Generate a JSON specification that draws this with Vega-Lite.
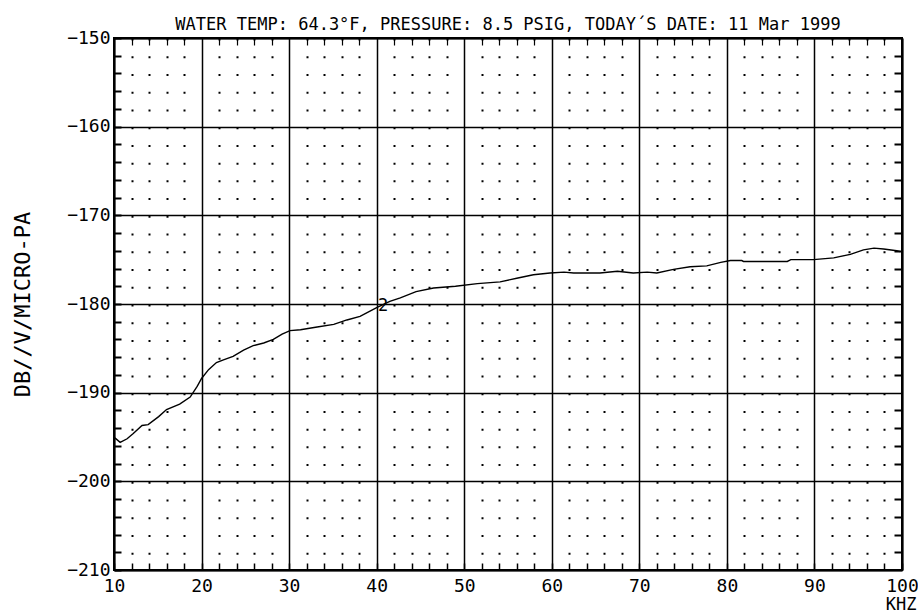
{
  "$schema": "https://vega.github.io/schema/vega-lite/v6.json",
  "width": 788,
  "height": 532,
  "autosize": {"type": "none"},
  "padding": {"left": 114, "top": 38, "right": 16, "bottom": 42},
  "background": "white",
  "config": {
    "view": {"stroke": "black", "strokeWidth": 2},
    "font": "DejaVu Sans Mono",
    "axis": {
      "labelFont": "DejaVu Sans Mono",
      "labelFontSize": 18,
      "labelColor": "black",
      "titleFont": "DejaVu Sans Mono",
      "titleColor": "black",
      "titleFontWeight": "normal",
      "domainColor": "black",
      "domainWidth": 2,
      "tickColor": "black"
    }
  },
  "title": {
    "text": "WATER TEMP: 64.3°F, PRESSURE: 8.5 PSIG, TODAY´S DATE: 11 Mar 1999",
    "font": "DejaVu Sans Mono",
    "fontSize": 17,
    "fontWeight": "normal",
    "color": "black",
    "anchor": "middle",
    "baseline": "alphabetic",
    "offset": 8,
    "dy": 26
  },
  "datasets": {
    "curve": [
      {"khz": 10.1, "db": -195.1}, {"khz": 10.7, "db": -195.6}, {"khz": 11.5, "db": -195.2},
      {"khz": 12.2, "db": -194.6}, {"khz": 13.2, "db": -193.7}, {"khz": 13.9, "db": -193.6},
      {"khz": 15.1, "db": -192.7}, {"khz": 16.0, "db": -191.9}, {"khz": 17.5, "db": -191.3},
      {"khz": 18.7, "db": -190.5}, {"khz": 19.5, "db": -189.3}, {"khz": 20.0, "db": -188.4},
      {"khz": 20.8, "db": -187.4}, {"khz": 21.7, "db": -186.6}, {"khz": 22.5, "db": -186.3},
      {"khz": 23.6, "db": -185.9}, {"khz": 24.8, "db": -185.2}, {"khz": 25.9, "db": -184.7},
      {"khz": 27.1, "db": -184.4}, {"khz": 28.2, "db": -184.0}, {"khz": 29.2, "db": -183.4},
      {"khz": 30.1, "db": -183.0}, {"khz": 31.3, "db": -182.9}, {"khz": 33.2, "db": -182.6},
      {"khz": 35.1, "db": -182.3}, {"khz": 36.6, "db": -181.8}, {"khz": 38.1, "db": -181.4},
      {"khz": 40.0, "db": -180.4}, {"khz": 41.5, "db": -179.7}, {"khz": 42.7, "db": -179.3},
      {"khz": 44.5, "db": -178.6}, {"khz": 46.5, "db": -178.2}, {"khz": 49.0, "db": -178.0},
      {"khz": 51.5, "db": -177.7}, {"khz": 54.1, "db": -177.5}, {"khz": 56.0, "db": -177.1},
      {"khz": 57.9, "db": -176.7}, {"khz": 59.8, "db": -176.5}, {"khz": 61.4, "db": -176.4},
      {"khz": 62.5, "db": -176.5}, {"khz": 65.5, "db": -176.5}, {"khz": 67.5, "db": -176.3},
      {"khz": 69.3, "db": -176.5}, {"khz": 70.9, "db": -176.4}, {"khz": 72.0, "db": -176.5},
      {"khz": 73.9, "db": -176.1}, {"khz": 75.8, "db": -175.8}, {"khz": 77.7, "db": -175.7},
      {"khz": 79.3, "db": -175.3}, {"khz": 80.4, "db": -175.1}, {"khz": 81.7, "db": -175.1},
      {"khz": 81.9, "db": -175.2}, {"khz": 86.9, "db": -175.2}, {"khz": 87.3, "db": -175.0},
      {"khz": 89.9, "db": -175.0}, {"khz": 92.2, "db": -174.8}, {"khz": 94.1, "db": -174.4},
      {"khz": 95.6, "db": -173.9}, {"khz": 96.8, "db": -173.7}, {"khz": 97.9, "db": -173.8},
      {"khz": 99.4, "db": -174.0}, {"khz": 99.8, "db": -174.1}
    ],
    "labels": [
      {"khz": 40.74, "db": -180.2, "label": "2"}
    ]
  },
  "resolve": {"axis": {"x": "independent", "y": "independent"}},
  "layer": [
    {
      "data": {"name": "curve"},
      "mark": {"type": "line", "color": "black", "strokeWidth": 1.4, "interpolate": "linear"},
      "encoding": {
        "x": {
          "field": "khz", "type": "quantitative",
          "scale": {"domain": [10, 100], "nice": false, "zero": false},
          "axis": {
            "orient": "bottom",
            "values": [10,12,14,16,18,20,22,24,26,28,30,32,34,36,38,40,42,44,46,48,50,52,54,56,58,60,62,64,66,68,70,72,74,76,78,80,82,84,86,88,90,92,94,96,98,100],
            "labelExpr": "datum.value % 10 === 0 ? datum.label : ''",
            "labelOverlap": false,
            "labelFlush": false,
            "labelPadding": 14,
            "tickSize": -7,
            "tickWidth": 1.5,
            "grid": true,
            "gridColor": "black",
            "gridOpacity": 1,
            "gridDash": {"condition": {"test": "datum.value % 10 === 0", "value": []}, "value": [2, 15.733]},
            "gridWidth": {"condition": {"test": "datum.value % 10 === 0", "value": 1.5}, "value": 2},
            "title": "KHZ",
            "titleFontSize": 17,
            "titleAlign": "right",
            "titleBaseline": "alphabetic",
            "titleX": 802,
            "titleY": 39
          }
        },
        "y": {
          "field": "db", "type": "quantitative",
          "scale": {"domain": [-210, -150], "nice": false, "zero": false},
          "axis": {
            "orient": "left",
            "values": [-150,-152,-154,-156,-158,-160,-162,-164,-166,-168,-170,-172,-174,-176,-178,-180,-182,-184,-186,-188,-190,-192,-194,-196,-198,-200,-202,-204,-206,-208,-210],
            "labelExpr": "datum.value % 10 === 0 ? datum.label : ''",
            "labelOverlap": false,
            "labelFlush": false,
            "labelPadding": 11,
            "tickSize": -7,
            "tickWidth": 2,
            "grid": true,
            "gridColor": "black",
            "gridOpacity": {"condition": {"test": "datum.value % 10 === 0", "value": 1}, "value": 0},
            "gridWidth": 1.5,
            "title": "DB//V/MICRO-PA",
            "titleFontSize": 22,
            "titleAngle": 270,
            "titleAlign": "center",
            "titleBaseline": "middle",
            "titleX": -92,
            "titleY": 266
          }
        }
      }
    },
    {
      "data": {"name": "labels"},
      "mark": {"type": "text", "font": "DejaVu Sans Mono", "fontSize": 17, "color": "black", "align": "center", "baseline": "middle"},
      "encoding": {
        "x": {
          "field": "khz", "type": "quantitative",
          "axis": {
            "orient": "top",
            "values": [12,14,16,18,22,24,26,28,32,34,36,38,42,44,46,48,52,54,56,58,62,64,66,68,72,74,76,78,82,84,86,88,92,94,96,98],
            "labels": false,
            "tickSize": -7,
            "tickWidth": 1.2,
            "grid": false,
            "title": null
          }
        },
        "y": {
          "field": "db", "type": "quantitative",
          "axis": {
            "orient": "right",
            "values": [-152,-154,-156,-158,-162,-164,-166,-168,-172,-174,-176,-178,-182,-184,-186,-188,-192,-194,-196,-198,-202,-204,-206,-208],
            "labels": false,
            "tickSize": -8,
            "tickWidth": 2,
            "grid": false,
            "title": null
          }
        },
        "text": {"field": "label"}
      }
    }
  ]
}
